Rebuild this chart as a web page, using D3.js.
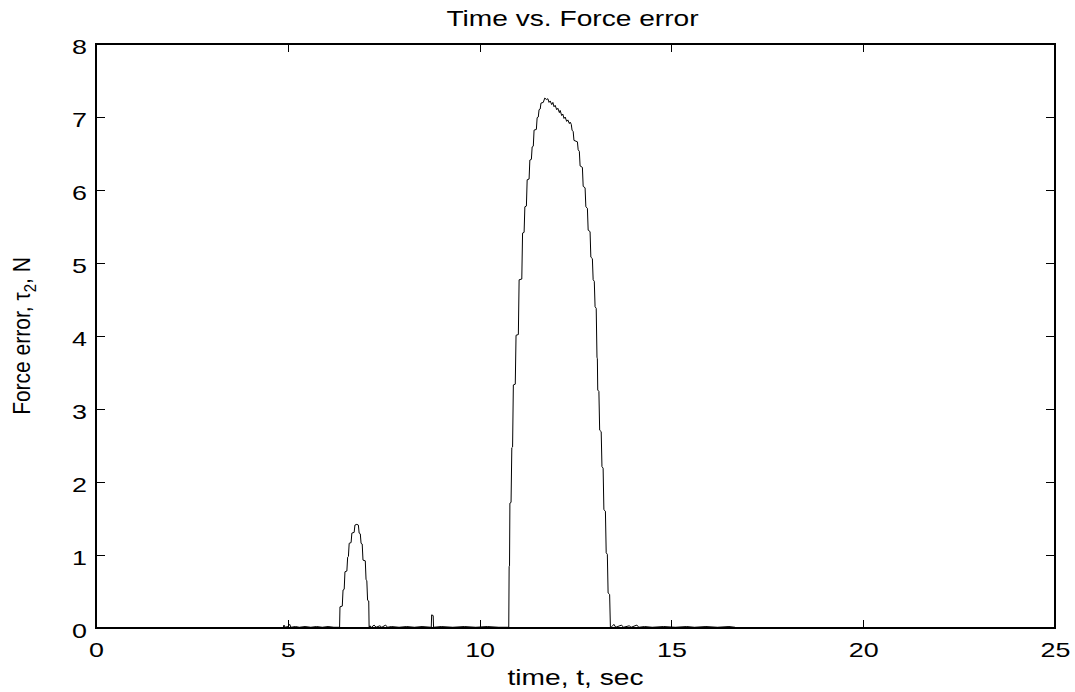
<!DOCTYPE html>
<html>
<head>
<meta charset="utf-8">
<script src="https://cdn.jsdelivr.net/npm/d3@7"></script>
<style>
  body { margin: 0; background: #fff; }
  text { font-family: "Liberation Sans", Arial, Helvetica, sans-serif; fill: #000; }
</style>
</head>
<body>
<svg id="chart" width="1075" height="692"></svg>
<script>
const chartTitle = "Time vs. Force error";
const xLabel = "time, t, sec";
const xTicks = [0, 5, 10, 15, 20, 25];
const yTicks = [0, 1, 2, 3, 4, 5, 6, 7, 8];

// samples: time (sec) and force error (N)
const timeSec = [
  0, 4.88, 4.90, 4.93, 5.00, 5.05, 5.08, 5.20, 5.30, 5.45, 5.60, 5.75, 5.90, 6.05, 6.20, 6.35,
  6.36, 6.42, 6.44, 6.47, 6.49, 6.54, 6.56, 6.58, 6.60, 6.65, 6.67, 6.73, 6.75, 6.80,
  6.84, 6.86, 6.89, 6.91, 6.94, 6.96, 7.02, 7.04, 7.06, 7.08, 7.11, 7.12,
  7.14, 7.18, 7.25, 7.30, 7.40, 7.45, 7.55, 7.60, 7.70, 7.90, 8.10, 8.30, 8.50, 8.74,
  8.75, 8.79, 8.80, 9.00, 9.30, 9.60, 9.90, 10.20, 10.50, 10.76,
  10.77, 10.78, 10.79, 10.82, 10.84, 10.86, 10.88, 10.93, 10.95, 11.01, 11.03, 11.10,
  11.12, 11.16, 11.18, 11.22, 11.24, 11.29, 11.31, 11.35, 11.37, 11.40, 11.42, 11.48,
  11.50, 11.53, 11.55, 11.58, 11.60, 11.66, 11.70, 11.74, 11.78, 11.81, 11.84, 11.88,
  11.91, 11.94, 11.97, 12.01, 12.04, 12.08, 12.10, 12.14, 12.17, 12.20, 12.23, 12.27,
  12.30, 12.34, 12.36, 12.39, 12.41, 12.44, 12.46, 12.55, 12.57, 12.60, 12.62, 12.68,
  12.70, 12.75, 12.77, 12.81, 12.83, 12.88, 12.90, 12.94, 12.96, 12.99, 13.01, 13.04,
  13.06, 13.07, 13.08, 13.11, 13.13, 13.17, 13.19, 13.22, 13.24, 13.28, 13.30, 13.33,
  13.35, 13.39, 13.41,
  13.45, 13.50, 13.55, 13.70, 13.75, 13.90, 13.95, 14.10, 14.15, 14.30, 14.50, 14.80,
  15.10, 15.40, 15.60, 15.90, 16.20, 16.50, 16.66, 16.67, 25
];
const forceErr = [
  0, 0, 0.04, 0.01, 0.02, 0.05, 0.01, 0.02, 0.01, 0.02, 0.01, 0.02, 0.01, 0.02, 0.01, 0.01,
  0.29, 0.30, 0.52, 0.53, 0.77, 0.78, 0.97, 0.98, 1.16, 1.17, 1.30, 1.31, 1.41, 1.42,
  1.41, 1.30, 1.29, 1.16, 1.15, 0.93, 0.92, 0.66, 0.65, 0.38, 0.37, 0.0,
  0.03, 0.01, 0.04, 0.01, 0.03, 0.01, 0.04, 0.01, 0.02, 0.01, 0.02, 0.01, 0.02, 0.01,
  0.18, 0.17, 0.01, 0.02, 0.01, 0.02, 0.01, 0.02, 0.01, 0.01,
  0.84, 0.85, 1.71, 1.72, 2.47, 2.48, 3.33, 3.34, 4.01, 4.02, 4.77, 4.78,
  5.41, 5.42, 5.77, 5.78, 6.14, 6.15, 6.41, 6.42, 6.59, 6.60, 6.82, 6.83,
  6.99, 7.00, 7.10, 7.11, 7.19, 7.20, 7.26, 7.24, 7.25, 7.20, 7.22, 7.17,
  7.20, 7.14, 7.16, 7.10, 7.12, 7.06, 7.09, 7.02, 7.04, 6.98, 7.00, 6.94,
  6.96, 6.91, 6.93, 6.90, 6.82, 6.80, 6.68, 6.66, 6.55, 6.53, 6.33, 6.31,
  6.05, 6.03, 5.77, 5.75, 5.45, 5.43, 5.08, 5.06, 4.77, 4.75, 4.40, 4.38,
  3.71, 3.69, 3.26, 3.24, 2.71, 2.69, 2.21, 2.19, 1.62, 1.60, 1.03, 1.01,
  0.48, 0.46, 0.0,
  0.02, 0.05, 0.01, 0.04, 0.01, 0.03, 0.01, 0.04, 0.01, 0.02, 0.01, 0.02,
  0.01, 0.02, 0.01, 0.02, 0.01, 0.02, 0.01, 0, 0
];

const W = 1075, H = 692;
const margin = {left: 96, right: 20, top: 44, bottom: 64};
const stretch = 1.28;   // the original figure is widened, text with it
const fontPx = 21;

const svg = d3.select("#chart");
const x = d3.scaleLinear().domain([0, 25]).range([margin.left, W - margin.right]);
const y = d3.scaleLinear().domain([0, 8]).range([H - margin.bottom, margin.top]);

// inward ticks on all four sides, labels only bottom and left
const gx = svg.append("g")
    .attr("transform", "translate(0," + y(0) + ")")
    .call(d3.axisBottom(x).tickValues(xTicks).tickSize(-8).tickSizeOuter(0));
gx.selectAll("text")
    .attr("y", 29).attr("dy", null)
    .attr("transform", "scale(" + stretch + ",1)")
    .style("font-size", fontPx + "px");

const gy = svg.append("g")
    .attr("transform", "translate(" + x(0) + ",0)")
    .call(d3.axisLeft(y).tickValues(yTicks).tickSize(-9).tickSizeOuter(0));
gy.selectAll("text")
    .attr("x", -9 / stretch).attr("dy", "9px")
    .attr("transform", "scale(" + stretch + ",1)")
    .style("font-size", fontPx + "px");

svg.append("g")
    .attr("transform", "translate(0," + y(8) + ")")
    .call(d3.axisTop(x).tickValues(xTicks).tickSize(-8).tickSizeOuter(0).tickFormat(""));
svg.append("g")
    .attr("transform", "translate(" + x(25) + ",0)")
    .call(d3.axisRight(y).tickValues(yTicks).tickSize(-9).tickSizeOuter(0).tickFormat(""));

svg.selectAll(".domain").remove();
svg.selectAll(".tick line").attr("stroke", "#000").attr("shape-rendering", "crispEdges");

// the trace
const line = d3.line()
    .x(function(d, i) { return x(timeSec[i]); })
    .y(function(d, i) { return y(forceErr[i]); });

svg.append("path")
    .datum(forceErr)
    .attr("d", line)
    .attr("fill", "none")
    .attr("stroke", "#000")
    .attr("stroke-width", 1);

// box
svg.append("rect")
    .attr("x", x(0)).attr("y", y(8))
    .attr("width", x(25) - x(0)).attr("height", y(0) - y(8))
    .attr("fill", "none").attr("stroke", "#000").attr("stroke-width", 1.3)
    .attr("shape-rendering", "crispEdges");

// title and labels
const midX = (x(0) + x(25)) / 2;
svg.append("text")
    .attr("transform", "translate(" + (midX - 3) + ",26) scale(" + stretch + ",1)")
    .attr("text-anchor", "middle")
    .style("font-size", "22px")
    .text(chartTitle);

svg.append("text")
    .attr("transform", "translate(" + midX + ",685) scale(" + stretch + ",1)")
    .attr("text-anchor", "middle")
    .style("font-size", "22px")
    .text(xLabel);

const yl = svg.append("text")
    .attr("transform", "translate(30," + ((y(0) + y(8)) / 2) + ") scale(1.12,1) rotate(-90)")
    .attr("text-anchor", "middle")
    .style("font-size", "21px");
yl.append("tspan").text("Force error, \u03C4");
yl.append("tspan").attr("dy", "5").style("font-size", "15px").text("2");
yl.append("tspan").attr("dy", "-5").text(", N");
</script>
</body>
</html>
